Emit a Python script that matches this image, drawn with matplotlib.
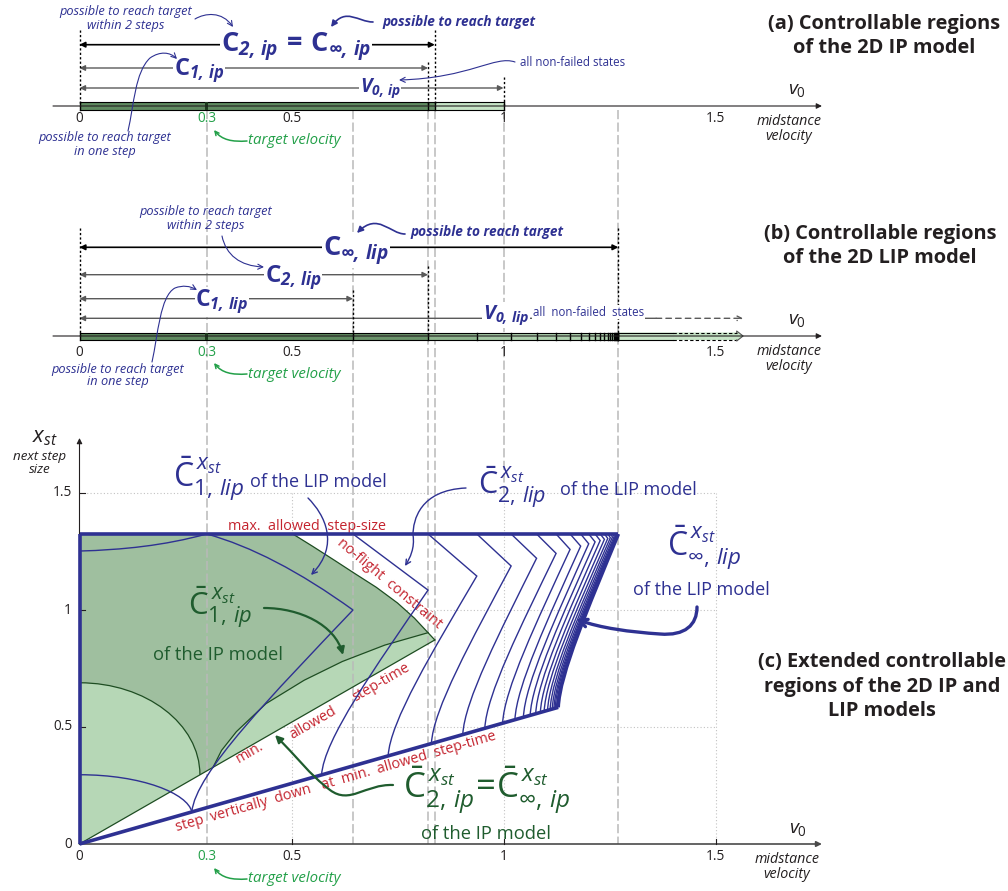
import numpy as np
import matplotlib
matplotlib.use("Agg")
import matplotlib.pyplot as plt
from matplotlib.path import Path
from matplotlib.patches import FancyArrowPatch, PathPatch, Rectangle, Polygon
from matplotlib.transforms import Affine2D, blended_transform_factory

plt.rcParams["font.family"] = ["Open Sans", "DejaVu Sans"]
plt.rcParams["mathtext.fontset"] = "custom"
plt.rcParams["mathtext.rm"] = "Open Sans"
plt.rcParams["mathtext.it"] = "Open Sans:italic"
plt.rcParams["mathtext.bf"] = "Open Sans:bold"
plt.rcParams["mathtext.bfit"] = "Open Sans:italic:bold"
plt.rcParams["mathtext.sf"] = "Open Sans"

# ---------------- data ----------------
TARGET_V = 0.3
tick_vals = [0, 0.3, 0.5, 1, 1.5]
tick_text = ["0", "0.3", "0.5", "1", "1.5"]
grid_vals = [0.5, 1.0, 1.5]

# (a) IP model: right ends of the intervals on the v0 axis
ip_c1 = 0.822
ip_c2 = 0.838            # C_2,ip = C_inf,ip
ip_v0 = 1.0

# (b) LIP model: right end of C_n,lip for n = 1, 2, ...
lip_c = [0.645, 0.822, 0.937, 1.018, 1.078, 1.124, 1.157, 1.182, 1.201,
         1.216, 1.228, 1.238, 1.246, 1.252, 1.257, 1.261, 1.264, 1.266,
         1.268, 1.269, 1.270]
lip_c_inf = 1.271
lip_v0_solid = 1.40
lip_v0_tip = 1.565

# (c) constraint boundaries in the (v0, x_st) plane
max_step = 1.325
min_time_end = (0.838, 0.872)
step_down_end = (1.129, 0.584)
no_flight_v = [0.503, 0.55, 0.60, 0.65, 0.70, 0.75, 0.79, 0.822, 0.838]
no_flight_x = [1.325, 1.272, 1.214, 1.155, 1.097, 1.030, 0.965, 0.903, 0.872]
ip1_edge_v = [0.315, 0.335, 0.37, 0.44, 0.53, 0.62, 0.72, 0.822]
ip1_edge_x = [0.328, 0.40, 0.48, 0.60, 0.70, 0.78, 0.85, 0.903]
ip1_arc_top = 0.689
ip1_arc_end_v = 0.284

# LIP one-step..n-step regions: corner (vertex) heights and landing velocities
lip_vertex_x = [1.0, 1.085, 1.145, 1.188, 1.221, 1.242, 1.259, 1.273, 1.283,
                1.291, 1.297, 1.302, 1.306, 1.309, 1.312, 1.314, 1.316, 1.318,
                1.319, 1.320, 1.321]
lip_landing_v = [0.265, 0.571, 0.728, 0.830, 0.904, 0.956, 0.998, 1.027, 1.047,
                 1.063, 1.076, 1.087, 1.096, 1.104, 1.110, 1.115, 1.119, 1.122,
                 1.125, 1.127, 1.128]
lip1_axis_top = 1.252
lip1_axis_bottom = 0.296

# ---------------- colours ----------------
NAVY = "#2e3192"
IPGREEN = "#1f5c2e"
TGREEN = "#23a049"
RED = "#c4242f"
INK = "#231f20"
GREY = "#5a5a5a"
DASHGREY = "#b9b9b9"
DARKFILL = "#9fbf9f"
LIGHTFILL = "#b6d7b6"
EDGEGREEN = "#1e4d22"
BAR_DARK = "#5f8a60"
BAR_DARK2 = "#6a936a"
BAR_MID = "#8db48d"
BAR_L1 = "#a3c7a3"
BAR_L2 = "#add0ad"
BAR_LIGHT = "#c6e4c6"

# ---------------- canvas ----------------
W, H = 1008, 891
fig = plt.figure(figsize=(W / 100, H / 100), dpi=100)
ax = fig.add_axes([0, 0, 1, 1])
X0, XS = 79.5, 424.0
Y0, YS = 844.0, 234.0
ax.set_xlim(-X0 / XS, (W - X0) / XS)
ax.set_ylim(-(H - Y0) / YS, Y0 / YS)
ax.axis("off")

T = Affine2D().scale(1 / W, -1 / H).translate(0, 1) + fig.transFigure
BT = blended_transform_factory(ax.transData, T)


def txt(x, y, s, size=9, color=INK, ha="center", va="center", **kw):
    return ax.text(x, y, s, transform=T, fontsize=size, color=color,
                   ha=ha, va=va, **kw)


def squiggle(pts, color, lw, style="->", scale=9, tr=T, z=6):
    verts = [pts[0]]
    codes = [Path.MOVETO]
    for i in range(1, len(pts), 3):
        verts += pts[i:i + 3]
        codes += [Path.CURVE4] * 3
    p = FancyArrowPatch(path=Path(verts, codes), arrowstyle=style, color=color,
                        lw=lw, mutation_scale=scale, transform=tr, zorder=z)
    ax.add_patch(p)


def harrow(x0, x1, y, color, lw, style="<|-|>", ls="-", scale=8):
    ax.annotate("", xy=(x1, y), xytext=(x0, y), xycoords=BT, textcoords=BT,
                arrowprops=dict(arrowstyle=style, color=color, lw=lw, ls=ls,
                                shrinkA=0, shrinkB=0, mutation_scale=scale),
                zorder=4)


def vdotted(x, y0, y1):
    ax.plot([x, x], [y0, y1], transform=BT, color="black", lw=1.0,
            ls=(0, (1.6, 1.6)), zorder=4)


# grey guide lines through all three panels
for v, bottom in zip([TARGET_V, lip_c[0], ip_c1, ip_c2, ip_v0, lip_c_inf],
                     [844, 844, 844, 844, 494, 844]):
    ax.plot([v, v], [110, bottom], transform=BT, color=DASHGREY, lw=1.1,
            ls=(0, (6, 2.2)), zorder=2)


def number_line(y_axis, y_label):
    harrow(-0.0625, 1.751, y_axis, INK, 0.8, style="-|>", scale=8)
    for v, s in zip(tick_vals, tick_text):
        txt(v * XS + X0, y_label, s, size=9.8,
            color=TGREEN if v == TARGET_V else INK)
    txt(797, y_axis - 16, r"$v_0$", size=14)
    txt(789, y_axis + 23, "midstance\nvelocity", size=10.3, style="italic",
        linespacing=1.05)
    txt(248, y_label + 22, "target velocity", size=10.8, color=TGREEN,
        style="italic", ha="left")
    squiggle([(247, y_label + 22), (232, y_label + 23), (222, y_label + 21),
              (214, y_label + 11)], TGREEN, 1.1, style="->", scale=7)


def bar(edges, colors, top, bottom):
    for (a, b), c in zip(zip(edges[:-1], edges[1:]), colors):
        ax.add_patch(Rectangle((a, top), b - a, bottom - top, transform=BT,
                               facecolor=c, edgecolor="none", zorder=3))
    for yy in (top, bottom):
        ax.plot([edges[0], edges[-1]], [yy, yy], transform=BT, color="black",
                lw=0.8, zorder=4)
    for e in edges:
        ax.plot([e, e], [top, bottom], transform=BT, color="black", lw=1.0,
                zorder=4)
    ax.add_patch(Rectangle((TARGET_V - 0.004, top), 0.008, bottom - top,
                           transform=BT, facecolor="#1c3a1c",
                           edgecolor="none", zorder=4))


LBL = dict(bbox=dict(fc="white", ec="none", pad=0.5), zorder=5)

# ---------------- panel (a) ----------------
YA = 106
bar([0, ip_c1, ip_c2, ip_v0], [BAR_DARK, BAR_DARK2, BAR_LIGHT], 102, 109.5)
harrow(0, ip_c2, 44.7, "black", 1.2)
harrow(0, ip_c1, 68, GREY, 1.0)
harrow(0, ip_v0, 88, GREY, 1.0)
vdotted(0, 30, YA)
vdotted(ip_c2, 30, YA)
vdotted(ip_c1, 62, YA)
vdotted(ip_v0, 77, YA)
number_line(YA, 119)

txt(296, 47, r"$\mathbf{C}_{\mathbfit{2,\,ip}}\mathbf{\,=\,C}_{\mathbfit{\infty,\,ip}}$",
    size=19.5, color=NAVY, **LBL)
txt(199, 71, r"$\mathbf{C}_{\mathbfit{1,\,ip}}$", size=17, color=NAVY, **LBL)
txt(380, 88, r"$\mathbfit{V}_{\mathbfit{0,\,ip}}$", size=14, color=NAVY, **LBL)
txt(126, 18.5, "possible to reach target\nwithin 2 steps", size=9.2,
    color=NAVY, style="italic", linespacing=1.0)
txt(382, 22, "possible to reach target", size=9.8, color=NAVY,
    style="italic", weight="bold", ha="left")
txt(520, 63, "all non-failed states", size=8.3, color=NAVY, ha="left")
txt(105, 144.5, "possible to reach target\nin one step", size=9.2,
    color=NAVY, style="italic", linespacing=1.0)
squiggle([(195, 19), (205, 13), (222, 11), (233, 27)], NAVY, 0.8)
squiggle([(373, 22), (358, 22), (346, 7), (331, 27)], NAVY, 1.2, "-|>", 9)
squiggle([(515, 62), (495, 55), (470, 78), (399, 80)], NAVY, 0.8)
squiggle([(128, 131), (134, 105), (135, 72), (150, 58),
          (160, 51), (170, 52), (177, 59)], NAVY, 0.8)
txt(884, 36, "(a) Controllable regions\nof the 2D IP model", size=14.4,
    weight="bold", linespacing=1.3)

# ---------------- panel (b) ----------------
YB = 336
edges_b = [0] + lip_c + [lip_c_inf]
cols_b = [BAR_DARK, BAR_DARK2, BAR_MID, BAR_L1] + [BAR_L2] * (len(edges_b) - 5)
bar(edges_b, cols_b, 332.5, 340)
# unbounded part of V_0,lip drawn as an open-ended arrow
ax.add_patch(Polygon([(lip_c_inf, 332.5), (lip_v0_tip - 0.015, 332.5),
                      (lip_v0_tip - 0.015, 331), (lip_v0_tip, 336),
                      (lip_v0_tip - 0.015, 341), (lip_v0_tip - 0.015, 340),
                      (lip_c_inf, 340)], closed=True, transform=BT,
                     facecolor=BAR_LIGHT, edgecolor="none", zorder=3))
for yy in (332.5, 340):
    ax.plot([lip_c_inf, lip_v0_solid], [yy, yy], transform=BT, color="black",
            lw=0.8, zorder=4)
    ax.plot([lip_v0_solid, lip_v0_tip - 0.015], [yy, yy], transform=BT,
            color="black", lw=0.8, ls=(0, (3, 2)), zorder=4)
ax.plot([lip_v0_tip - 0.015, lip_v0_tip - 0.015, lip_v0_tip,
         lip_v0_tip - 0.015, lip_v0_tip - 0.015], [332.5, 331, 336, 341, 340],
        transform=BT, color="#555555", lw=0.8, zorder=4)

harrow(0, lip_c_inf, 247.3, "black", 1.2)
harrow(0, lip_c[1], 274.7, GREY, 1.0)
harrow(0, lip_c[0], 298.7, GREY, 1.0)
harrow(0, 1.36, 318.3, GREY, 1.0, style="<|-")
harrow(1.36, lip_v0_tip, 318.3, GREY, 1.0, style="->", ls=(0, (4, 3)))
vdotted(0, 228, YB)
vdotted(lip_c_inf, 228, YB)
vdotted(lip_c[1], 266, YB)
vdotted(lip_c[0], 290, YB)
number_line(YB, 352)

txt(356, 251, r"$\mathbf{C}_{\mathbfit{\infty,\,lip}}$", size=19.5, color=NAVY, **LBL)
txt(293, 278, r"$\mathbf{C}_{\mathbfit{2,\,lip}}$", size=17.5, color=NAVY, **LBL)
txt(222, 302, r"$\mathbf{C}_{\mathbfit{1,\,lip}}$", size=16.5, color=NAVY, **LBL)
txt(506, 315, r"$\mathbfit{V}_{\mathbfit{0,\,lip}}$", size=14.5, color=NAVY, **LBL)
txt(533, 312, "all  non-failed  states", size=8.3, color=NAVY, ha="left",
    **LBL)
txt(206, 218.5, "possible to reach target\nwithin 2 steps", size=9.2,
    color=NAVY, style="italic", linespacing=1.0)
txt(410, 232, "possible to reach target", size=9.8, color=NAVY,
    style="italic", weight="bold", ha="left")
txt(118, 375.5, "possible to reach target\nin one step", size=9.2,
    color=NAVY, style="italic", linespacing=1.0)
squiggle([(222, 236), (226, 255), (240, 266), (264, 267)], NAVY, 0.8)
squiggle([(405, 234), (390, 234), (378, 212), (357, 233)], NAVY, 1.2, "-|>", 9)
squiggle([(152, 362), (158, 335), (160, 296), (175, 288),
          (183, 285), (190, 286), (197, 290)], NAVY, 0.8)
txt(880, 246, "(b) Controllable regions\nof the 2D LIP model", size=14.4,
    weight="bold", linespacing=1.3)

# ---------------- panel (c) ----------------
# dotted grid
for g in grid_vals:
    ax.plot([g, g], [0, 1.5], color="#c2c2c2", lw=0.8, ls=(0, (1, 2)), zorder=1)
    ax.plot([0, 1.5], [g, g], color="#c2c2c2", lw=0.8, ls=(0, (1, 2)), zorder=1)

# axes with arrows and ticks
ax.annotate("", xy=(1.751, 0), xytext=(0, 0),
            arrowprops=dict(arrowstyle="-|>", color="#4a4a4a", lw=1.2,
                            shrinkA=0, shrinkB=0, mutation_scale=8), zorder=3)
ax.annotate("", xy=(0, 1.735), xytext=(0, 0),
            arrowprops=dict(arrowstyle="-|>", color=INK, lw=0.8,
                            shrinkA=0, shrinkB=0, mutation_scale=8), zorder=3)
for g in grid_vals:
    ax.plot([g, g], [0, 0.022], color=INK, lw=0.8, zorder=3)
    ax.plot([0, 0.012], [g, g], color=INK, lw=0.8, zorder=3)

# IP regions
nf = list(zip(no_flight_v, no_flight_x))
light_verts = [(0, 0), min_time_end] + nf[::-1] + [(0, max_step), (0, 0)]
ax.add_patch(Polygon(light_verts, closed=True, facecolor=LIGHTFILL,
                     edgecolor="none", zorder=1))

K = 0.5523
arc_end = (ip1_arc_end_v, np.interp(ip1_arc_end_v, [0, min_time_end[0]],
                                    [0, min_time_end[1]]))
edge = list(zip(ip1_edge_v, ip1_edge_x))
nf_upper = [p for p in nf if p[0] <= ip1_edge_v[-1]]
dark_verts = ([(0, ip1_arc_top), (0, max_step)] + nf_upper + edge[::-1] +
              [arc_end,
               (arc_end[0], arc_end[1] + K * (ip1_arc_top - arc_end[1])),
               (K * arc_end[0], ip1_arc_top), (0, ip1_arc_top), (0, 0)])
dark_codes = ([Path.MOVETO] + [Path.LINETO] * (1 + len(nf_upper) + len(edge) + 1)
              + [Path.CURVE4] * 3 + [Path.CLOSEPOLY])
ax.add_patch(PathPatch(Path(dark_verts, dark_codes), facecolor=DARKFILL,
                       edgecolor="none", zorder=1))

ax.plot([0, min_time_end[0]], [0, min_time_end[1]], color=EDGEGREEN, lw=0.9,
        zorder=3)
ax.plot(no_flight_v, no_flight_x, color=EDGEGREEN, lw=0.9, zorder=3,
        solid_joinstyle="round")
ax.plot(ip1_edge_v, ip1_edge_x, color=EDGEGREEN, lw=0.9, zorder=3,
        solid_joinstyle="round")
ax.add_patch(PathPatch(Path([(0, ip1_arc_top), (K * arc_end[0], ip1_arc_top),
                             (arc_end[0], arc_end[1] + K * (ip1_arc_top - arc_end[1])),
                             arc_end],
                            [Path.MOVETO] + [Path.CURVE4] * 3),
                       fill=False, edgecolor=EDGEGREEN, lw=0.9, zorder=3))

# LIP regions
def on_step_down(v):
    return float(np.interp(v, [0, step_down_end[0]], [0, step_down_end[1]]))


def lower_arm(top, bottom):
    dv, dx = top[0] - bottom[0], top[1] - bottom[1]
    return [(top[0] - 0.5 * dv, top[1] - 0.42 * dx),
            (bottom[0] + 0.02 * dv, bottom[1] + 0.19 * dx), bottom]


for n in range(len(lip_c)):
    vert = (lip_c[n], lip_vertex_x[n])
    land = (lip_landing_v[n], on_step_down(lip_landing_v[n]))
    if n == 0:
        verts = [(0, lip1_axis_top), (0.1, lip1_axis_top + 0.005),
                 (0.2, 1.275), (TARGET_V, max_step), (0.456, 1.247), vert]
        codes = [Path.MOVETO] + [Path.CURVE4] * 3 + [Path.CURVE3] * 2
    else:
        verts = [(lip_c[n - 1], max_step), vert]
        codes = [Path.MOVETO, Path.LINETO]
    verts += lower_arm(vert, land)
    codes += [Path.CURVE4] * 3
    ax.add_patch(PathPatch(Path(verts, codes), fill=False, edgecolor=NAVY,
                           lw=1.0, zorder=4, joinstyle="miter"))

land1 = (lip_landing_v[0], on_step_down(lip_landing_v[0]))
ax.add_patch(PathPatch(Path([(0, lip1_axis_bottom),
                             (K * land1[0], lip1_axis_bottom),
                             (land1[0] - 0.01, land1[1] + 0.5 * (lip1_axis_bottom - land1[1])),
                             land1], [Path.MOVETO] + [Path.CURVE4] * 3),
                       fill=False, edgecolor=NAVY, lw=1.0, zorder=4))

env = [(lip_c_inf, max_step)] + lower_arm((lip_c_inf, max_step), step_down_end)
ax.add_patch(PathPatch(Path(env, [Path.MOVETO] + [Path.CURVE4] * 3),
                       fill=False, edgecolor=NAVY, lw=2.6, zorder=4))
ax.plot([0, lip_c_inf], [max_step, max_step], color=NAVY, lw=2.6, zorder=4,
        solid_capstyle="butt")
ax.plot([0, 0], [0, max_step], color=NAVY, lw=2.6, zorder=4,
        solid_capstyle="butt")
ax.plot([0, step_down_end[0]], [0, step_down_end[1]], color=NAVY, lw=2.6,
        zorder=4, solid_capstyle="butt")

# tick labels and axis titles
for v, s in zip(tick_vals, tick_text):
    txt(v * XS + X0, 857, s, size=9.8, color=TGREEN if v == TARGET_V else INK)
for g, s in zip([0, 0.5, 1.0, 1.5], ["0", "0.5", "1", "1.5"]):
    txt(72, Y0 - g * YS, s, size=9.8, ha="right")
txt(798, 829, r"$v_0$", size=14)
txt(787, 867, "midstance\nvelocity", size=10.3, style="italic", linespacing=1.05)
txt(45, 437, r"$x_{st}$", size=16)
txt(40, 463, "next step\nsize", size=9.6, style="italic", linespacing=0.95)
txt(248, 879, "target velocity", size=10.8, color=TGREEN, style="italic",
    ha="left")
squiggle([(247, 879), (232, 880), (222, 878), (214, 868)], TGREEN, 1.1,
         style="->", scale=7)
txt(882, 687, "(c) Extended controllable\nregions of the 2D IP and\nLIP models",
    size=14.4, weight="bold", linespacing=1.3)

# constraint names
txt(307, 526, "max.  allowed  step-size", size=10.4, color=RED)
txt(389, 584, "no-flight  constraint", size=10.4, color=RED, rotation=-40)
txt(250, 753, "min.", size=10.4, color=RED, rotation=30)
txt(313, 723, "allowed", size=10.4, color=RED, rotation=30)
txt(381, 683, "step-time", size=10.4, color=RED, rotation=30)
txt(243, 808, "step  vertically  down", size=10.4, color=RED, rotation=16)
txt(409, 761, "at  min.  allowed  step-time", size=10.4, color=RED, rotation=16)

# region names
txt(173, 478, r"$\bar{\mathrm{C}}^{\,x_{st}}_{1,\,lip}$", size=23, color=NAVY,
    ha="left")
txt(250, 482, "of the LIP model", size=13, color=NAVY, ha="left")
txt(478, 487, r"$\bar{\mathrm{C}}^{\,x_{st}}_{2,\,lip}$", size=22, color=NAVY,
    ha="left")
txt(560, 490, "of the LIP model", size=13, color=NAVY, ha="left")
txt(667, 547, r"$\bar{\mathrm{C}}^{\,x_{st}}_{\infty,\,lip}$", size=23,
    color=NAVY, ha="left")
txt(633, 590, "of the LIP model", size=13, color=NAVY, ha="left")
txt(188, 607, r"$\bar{\mathrm{C}}^{\,x_{st}}_{1,\,ip}$", size=22.5, color=IPGREEN,
    ha="left")
txt(153, 655, "of the IP model", size=13.2, color=IPGREEN, ha="left")
txt(403, 790,
    r"$\bar{\mathrm{C}}^{\,x_{st}}_{2,\,ip}\!=\!\bar{\mathrm{C}}^{\,x_{st}}_{\infty,\,ip}$",
    size=25, color=IPGREEN, ha="left")
txt(421, 834, "of the IP model", size=13.2, color=IPGREEN, ha="left")

squiggle([(308, 498), (325, 515), (340, 545), (311, 575)], NAVY, 1.0)
squiggle([(466, 488), (420, 490), (413, 520), (413, 535),
          (415, 548), (410, 558), (405, 566)], NAVY, 1.0)
squiggle([(697, 607), (697, 625), (685, 636), (660, 634),
          (630, 632), (600, 628), (576, 619)], NAVY, 2.4, "->", 14)
squiggle([(264, 608), (300, 608), (335, 625), (343, 655)], IPGREEN, 1.6,
         "-|>", 11)
squiggle([(393, 785), (365, 784), (350, 805), (330, 790),
          (310, 775), (295, 755), (275, 735)], IPGREEN, 1.6, "-|>", 11)

fig.savefig("out.png", dpi=100)
